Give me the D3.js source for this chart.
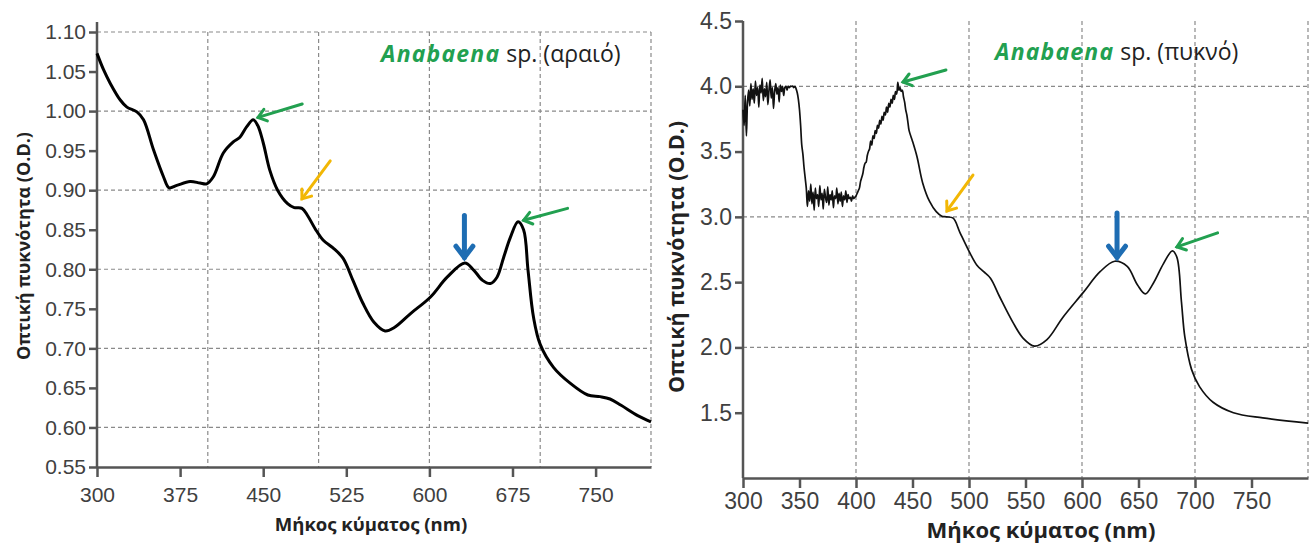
<!DOCTYPE html>
<html>
<head>
<meta charset="utf-8">
<script src="https://cdn.jsdelivr.net/npm/d3@7"></script>
<style>
body { margin: 0; background: #fff; }
svg { font-family: "Open Sans", "Noto Sans", sans-serif; }
.grid line { stroke: #8a8a8a; stroke-width: 1.2; stroke-dasharray: 4 3; }
.axis path, .axis line { stroke: #555; stroke-width: 2.5; }
.axis text { fill: #404040; }
</style>
</head>
<body>
<svg id="chart" width="1314" height="547"></svg>
<script>
// ---- data: left panel (dilute sample) ----
var leftNm = [300, 306, 312, 321, 327, 336, 342, 351, 360, 365, 372, 384, 393, 399, 405, 414, 423, 429, 435, 441, 445, 450, 456, 463, 472, 478, 485, 490, 497, 504, 513, 522, 531, 540, 550, 560, 568, 583, 601, 616, 632, 640, 648, 655, 661, 667, 673, 680, 685, 689, 694, 700, 712, 727, 743, 754, 763, 773, 788, 800];
var leftOD = [1.073, 1.052, 1.035, 1.014, 1.005, 0.999, 0.989, 0.951, 0.917, 0.903, 0.906, 0.911, 0.909, 0.908, 0.917, 0.947, 0.961, 0.967, 0.980, 0.989, 0.982, 0.960, 0.925, 0.900, 0.883, 0.878, 0.877, 0.868, 0.851, 0.837, 0.827, 0.814, 0.786, 0.757, 0.733, 0.722, 0.726, 0.744, 0.765, 0.790, 0.808, 0.799, 0.786, 0.782, 0.790, 0.815, 0.840, 0.860, 0.850, 0.799, 0.739, 0.705, 0.676, 0.656, 0.641, 0.639, 0.636, 0.628, 0.615, 0.607];
var leftXTicks = [300, 375, 450, 525, 600, 675, 750];
var leftYTicks = [0.55, 0.60, 0.65, 0.70, 0.75, 0.80, 0.85, 0.90, 0.95, 1.00, 1.05, 1.10];
var leftXGrid = [400, 500, 600, 700, 800];
var leftYGrid = [0.60, 0.70, 0.80, 0.90, 1.00, 1.10];

// ---- data: right panel (dense sample), noisy part every 1 nm ----
var rightNm = d3.range(300, 448).concat([450, 454, 459, 465, 471, 476, 480, 486, 492, 501, 507, 513, 519, 527, 539, 548, 558, 569, 583, 601, 616, 629, 640, 649, 656, 663, 672, 680, 684, 688, 691, 697, 704, 716, 734, 760, 800]);
var rightOD = [
  3.82, 3.70, 3.93, 3.62, 3.88, 3.97, 3.85, 4.02, 3.90, 3.98,
  3.87, 4.04, 3.93, 3.99, 3.84, 4.01, 3.95, 4.06, 3.89, 3.98,
  3.92, 4.03, 3.86, 3.97, 4.05, 3.91, 3.99, 3.83, 3.96, 4.02,
  3.94, 3.99, 3.88, 4.01, 3.96, 4.00, 3.93, 3.99, 4.00, 3.97,
  4.00, 3.99, 4.00, 4.00, 4.00, 3.99, 4.00, 3.98, 3.95, 3.90,
  3.82, 3.70, 3.55, 3.48, 3.38, 3.30, 3.22, 3.08, 3.20, 3.12,
  3.25, 3.10, 3.19, 3.05, 3.22, 3.14, 3.17, 3.08, 3.24, 3.13,
  3.18, 3.06, 3.21, 3.15, 3.11, 3.23, 3.09, 3.17, 3.13, 3.20,
  3.07, 3.16, 3.14, 3.22, 3.10, 3.18, 3.12, 3.19, 3.08, 3.16,
  3.13, 3.20, 3.11, 3.17, 3.14, 3.15, 3.12, 3.16, 3.14, 3.15,
  3.16, 3.18, 3.20, 3.22, 3.27, 3.30, 3.33, 3.38, 3.41, 3.42,
  3.47, 3.50, 3.52, 3.58, 3.55, 3.62, 3.60, 3.66, 3.64, 3.70,
  3.68, 3.74, 3.71, 3.77, 3.74, 3.80, 3.78, 3.84, 3.80, 3.87,
  3.84, 3.90, 3.87, 3.93, 3.90, 3.96, 3.94, 4.03, 3.97, 3.99,
  3.96, 3.97, 3.92, 3.88, 3.82, 3.78, 3.72, 3.66,
  3.58, 3.46, 3.26, 3.12, 3.04, 3.005, 3.00, 2.99, 2.88, 2.72,
  2.63, 2.58, 2.53, 2.39, 2.19, 2.07, 2.01, 2.06, 2.23, 2.42,
  2.58, 2.66, 2.62, 2.48, 2.41, 2.49, 2.64, 2.74, 2.69, 2.35,
  2.08, 1.83, 1.70, 1.58, 1.50, 1.46, 1.42];
var rightXTicks = [300, 350, 400, 450, 500, 550, 600, 650, 700, 750];
var rightYTicks = [1.5, 2.0, 2.5, 3.0, 3.5, 4.0, 4.5];
var rightXGrid = [400, 500, 600, 700, 800];
var rightYGrid = [2.0, 3.0, 4.0];

// annotation arrows: tip and tail in data units
var leftArrows = [
  {tip: [445.3, 0.992], tail: [485.2, 1.009], color: "#22a050", w: 3, head: 10},
  {tip: [685, 0.862], tail: [724.7, 0.877], color: "#22a050", w: 3, head: 10},
  {tip: [485, 0.889], tail: [510.5, 0.937], color: "#f2b705", w: 3, head: 10},
  {tip: [631.6, 0.815], tail: [631.6, 0.868], color: "#1e6db3", w: 5, head: 14}
];
var rightArrows = [
  {tip: [441.6, 4.033], tail: [479.6, 4.125], color: "#22a050", w: 3, head: 10},
  {tip: [684, 2.77], tail: [720, 2.877], color: "#22a050", w: 3, head: 10},
  {tip: [480.5, 3.045], tail: [503.5, 3.32], color: "#f2b705", w: 3, head: 10},
  {tip: [631, 2.69], tail: [631, 3.03], color: "#1e6db3", w: 5, head: 14}
];

var svg = d3.select("#chart");

function drawPanel(o) {
  var x = d3.scaleLinear().domain([300, 800]).range([o.x0, o.x1]);
  var y = d3.scaleLinear().domain(o.yDomain).range([o.y0, o.y1]);
  var g = svg.append("g");

  // grid
  var grid = g.append("g").attr("class", "grid");
  grid.selectAll(".gx").data(o.xGrid).enter().append("line")
    .attr("x1", d => x(d)).attr("x2", d => x(d))
    .attr("y1", o.y1).attr("y2", o.y0);
  grid.selectAll(".gy").data(o.yGrid).enter().append("line")
    .attr("x1", o.x0).attr("x2", o.x1)
    .attr("y1", d => y(d)).attr("y2", d => y(d));

  // axes
  var ax = g.append("g").attr("class", "axis")
    .attr("transform", "translate(0," + o.y0 + ")")
    .call(d3.axisBottom(x).tickValues(o.xTicks).tickSize(10).tickPadding(o.xPad).tickSizeOuter(0));
  ax.selectAll("text").style("font-size", o.tickFont + "px");
  var ay = g.append("g").attr("class", "axis")
    .attr("transform", "translate(" + o.x0 + ",0)")
    .call(d3.axisLeft(y).tickValues(o.yTicks).tickFormat(d3.format(o.yFmt)).tickSize(8).tickPadding(3).tickSizeOuter(0));
  ay.selectAll("text").style("font-size", o.tickFont + "px");
  ay.select(".domain").attr("d", "M0," + o.y0 + "V" + (o.y1 - o.yOver));

  // curve
  var line = d3.line().x(d => x(d[0])).y(d => y(d[1])).curve(d3.curveCatmullRom);
  g.append("path")
    .datum(o.nm.map((d, i) => [d, o.od[i]]))
    .attr("fill", "none").attr("stroke", o.lineColor).attr("stroke-width", o.lineW)
    .attr("stroke-linejoin", "round")
    .attr("d", line);

  // arrows
  o.arrows.forEach(function(a) {
    var tx = x(a.tip[0]), ty = y(a.tip[1]), sx = x(a.tail[0]), sy = y(a.tail[1]);
    var ang = Math.atan2(sy - ty, sx - tx), s = 0.65;
    var p1 = [tx + a.head * Math.cos(ang + s), ty + a.head * Math.sin(ang + s)];
    var p2 = [tx + a.head * Math.cos(ang - s), ty + a.head * Math.sin(ang - s)];
    g.append("line").attr("x1", sx).attr("y1", sy).attr("x2", tx).attr("y2", ty)
      .attr("stroke", a.color).attr("stroke-width", a.w).attr("stroke-linecap", "round");
    g.append("path").attr("d", "M" + p1 + "L" + tx + "," + ty + "L" + p2)
      .attr("fill", "none").attr("stroke", a.color).attr("stroke-width", a.w)
      .attr("stroke-linecap", "round").attr("stroke-linejoin", "miter");
  });

  // legend label
  var t = g.append("text").attr("x", o.labelX).attr("y", o.labelY).style("font-size", o.labelFont + "px");
  t.append("tspan").text("Anabaena").attr("fill", "#22a050").style("font-weight", "bold")
    .style("font-style", "italic").style("letter-spacing", "1.2px");
  t.append("tspan").text(" sp. " + o.labelTail).attr("fill", "#222");

  // axis titles
  g.append("text").attr("x", o.xTitleX).attr("y", o.xTitleY)
    .attr("text-anchor", "middle").style("font-weight", "bold").style("font-size", o.titleFont + "px")
    .attr("fill", "#222").text("Μήκος κύματος (nm)");
  g.append("text").attr("transform", "translate(" + o.yTitleX + "," + o.yTitleY + ") rotate(-90)")
    .attr("text-anchor", "middle").style("font-weight", "bold").style("font-size", o.yTitleFont + "px")
    .attr("fill", "#222").text("Οπτική πυκνότητα (O.D.)");
}

drawPanel({
  x0: 97, x1: 651, y0: 467, y1: 32, yOver: 10, yDomain: [0.55, 1.10],
  xTicks: leftXTicks, yTicks: leftYTicks, xGrid: leftXGrid, yGrid: leftYGrid, yFmt: ".2f",
  nm: leftNm, od: leftOD, lineColor: "#000", lineW: 3, arrows: leftArrows,
  tickFont: 21, xPad: 10, labelX: 381, labelY: 62, labelFont: 23, labelTail: "(αραιό)",
  xTitleX: 371, xTitleY: 531, titleFont: 18.5, yTitleX: 30, yTitleY: 246, yTitleFont: 18
});
drawPanel({
  x0: 743, x1: 1308, y0: 478, y1: 21, yOver: 0, yDomain: [1.0, 4.5],
  xTicks: rightXTicks, yTicks: rightYTicks, xGrid: rightXGrid, yGrid: rightYGrid, yFmt: ".1f",
  nm: rightNm, od: rightOD, lineColor: "#111", lineW: 1.7, arrows: rightArrows,
  tickFont: 23, xPad: 5, labelX: 995, labelY: 60, labelFont: 23, labelTail: "(πυκνό)",
  xTitleX: 1041, xTitleY: 538, titleFont: 22, yTitleX: 684, yTitleY: 257, yTitleFont: 21.5
});
</script>
</body>
</html>
